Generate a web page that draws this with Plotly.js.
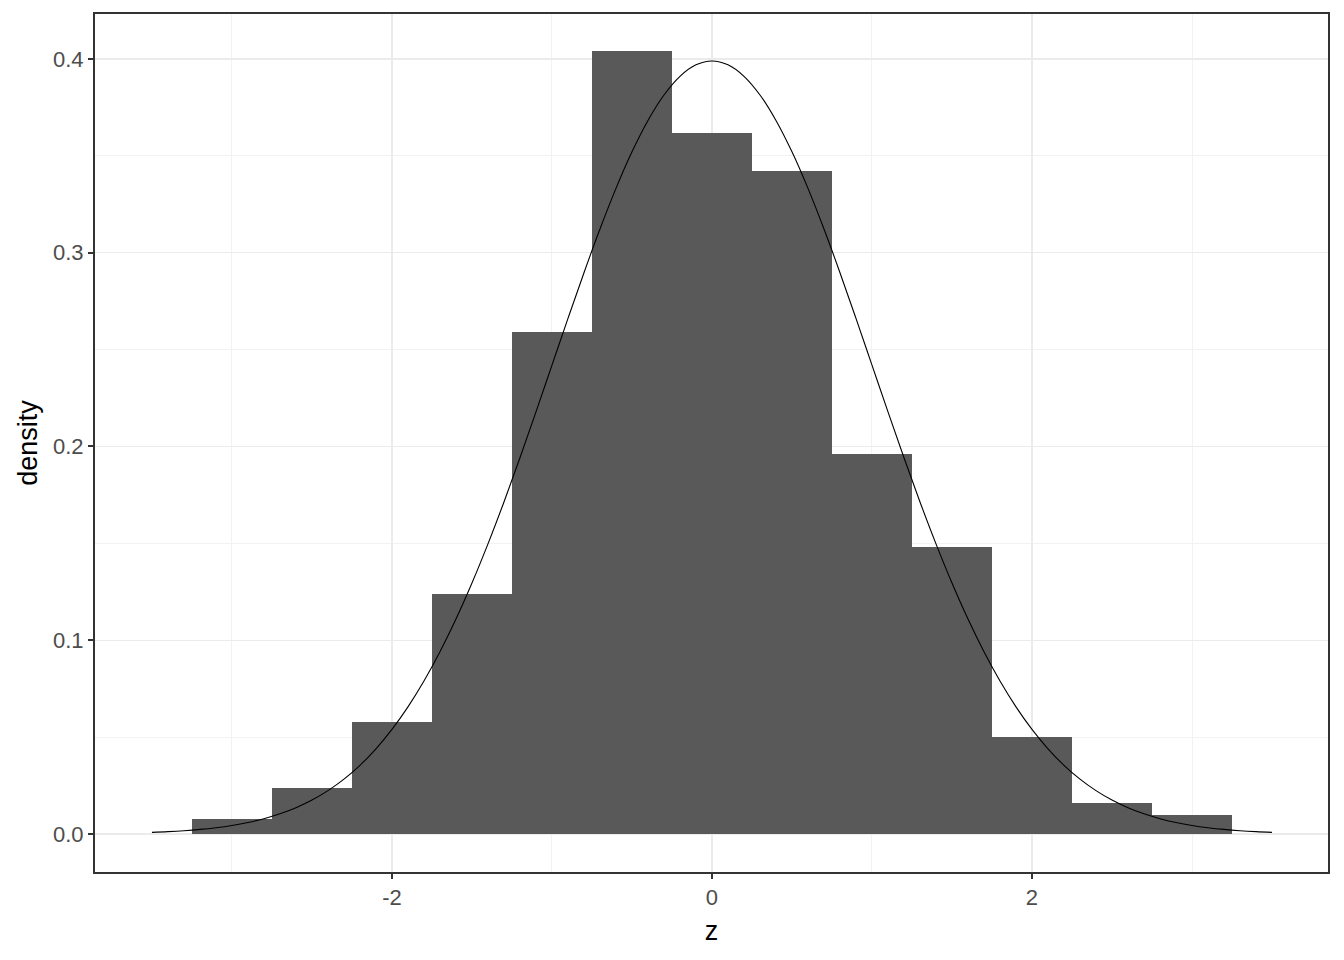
<!DOCTYPE html>
<html>
<head>
<meta charset="utf-8">
<script src="https://cdn.plot.ly/plotly-3.0.1.min.js"></script>
<style>html,body{margin:0;padding:0;background:#fff;}#chart{width:1344px;height:960px;}</style>
</head>
<body>
<div id="chart"></div>
<script>
// Histogram bins (centers, width 0.5) and densities
var binCenters = [-3, -2.5, -2, -1.5, -1, -0.5, 0, 0.5, 1, 1.5, 2, 2.5, 3];
var binDensity = [0.008, 0.024, 0.058, 0.124, 0.259, 0.404, 0.362, 0.342, 0.196, 0.148, 0.050, 0.016, 0.010];
var binWidth = 0.5;

// Normal density curve values
var curveX = [-3.5,-3.4,-3.3,-3.2,-3.1,-3.0,-2.9,-2.8,-2.7,-2.6,-2.5,-2.4,-2.3,-2.2,-2.1,-2.0,-1.9,-1.8,-1.7,-1.6,-1.5,-1.4,-1.3,-1.2,-1.1,-1.0,-0.9,-0.8,-0.7,-0.6,-0.5,-0.4,-0.3,-0.2,-0.1,0,
  0.1,0.2,0.3,0.4,0.5,0.6,0.7,0.8,0.9,1.0,1.1,1.2,1.3,1.4,1.5,1.6,1.7,1.8,1.9,2.0,2.1,2.2,2.3,2.4,2.5,2.6,2.7,2.8,2.9,3.0,3.1,3.2,3.3,3.4,3.5];
var curveY = [0.00087,0.00123,0.00172,0.00238,0.00327,0.00443,0.00595,0.00792,0.01042,0.01358,0.01753,0.02239,0.02833,0.03547,0.04398,0.05399,0.06562,0.07895,0.09405,0.11092,0.12952,0.14973,0.17137,0.19419,0.21785,0.24197,0.26609,0.28969,0.31225,0.33322,0.35207,0.36827,0.38139,0.39104,0.39695,0.39894,
  0.39695,0.39104,0.38139,0.36827,0.35207,0.33322,0.31225,0.28969,0.26609,0.24197,0.21785,0.19419,0.17137,0.14973,0.12952,0.11092,0.09405,0.07895,0.06562,0.05399,0.04398,0.03547,0.02833,0.02239,0.01753,0.01358,0.01042,0.00792,0.00595,0.00443,0.00327,0.00238,0.00172,0.00123,0.00087];

var xTicks = [-2, 0, 2];
var xTickLabels = ['-2', '0', '2'];
var yTicks = [0, 0.1, 0.2, 0.3, 0.4];
var yTickLabels = ['0.0', '0.1', '0.2', '0.3', '0.4'];

var traces = [
  {
    type: 'bar', x: binCenters, y: binDensity, width: binWidth,
    marker: {color: '#595959', line: {width: 0}},
    hoverinfo: 'x+y', showlegend: false
  },
  {
    type: 'scatter', mode: 'lines', x: curveX, y: curveY,
    line: {color: '#000000', width: 1.1, shape: 'spline'},
    showlegend: false
  }
];

var layout = {
  width: 1344, height: 960,
  margin: {l: 95, r: 16, t: 14, b: 88},
  paper_bgcolor: '#ffffff', plot_bgcolor: '#ffffff',
  bargap: 0,
  font: {family: 'Liberation Sans, Arial, sans-serif'},
  xaxis: {
    range: [-3.856, 3.85],
    tickvals: xTicks, ticktext: xTickLabels,
    ticks: 'outside', ticklen: 5, tickwidth: 2, tickcolor: '#333333',
    tickfont: {size: 22, color: '#4D4D4D'},
    showgrid: true, gridcolor: '#EBEBEB', gridwidth: 1.5,
    minor: {tickvals: [-3, -1, 1, 3], showgrid: true, gridcolor: '#F2F2F2', gridwidth: 1, ticks: ''},
    zeroline: false,
    showline: true, mirror: true, linecolor: '#333333', linewidth: 2,
    title: {text: 'z', font: {size: 27, color: '#000000'}, standoff: 12}
  },
  yaxis: {
    range: [-0.0196, 0.4232],
    tickvals: yTicks, ticktext: yTickLabels,
    ticks: 'outside', ticklen: 5, tickwidth: 2, tickcolor: '#333333',
    tickfont: {size: 22, color: '#4D4D4D'},
    showgrid: true, gridcolor: '#EBEBEB', gridwidth: 1.5,
    minor: {tickvals: [0.05, 0.15, 0.25, 0.35], showgrid: true, gridcolor: '#F2F2F2', gridwidth: 1, ticks: ''},
    zeroline: false,
    showline: true, mirror: true, linecolor: '#333333', linewidth: 2,
    title: {text: 'density', font: {size: 27, color: '#000000'}, standoff: 8}
  }
};

Plotly.newPlot('chart', traces, layout, {displayModeBar: false, staticPlot: true});
</script>
</body>
</html>
